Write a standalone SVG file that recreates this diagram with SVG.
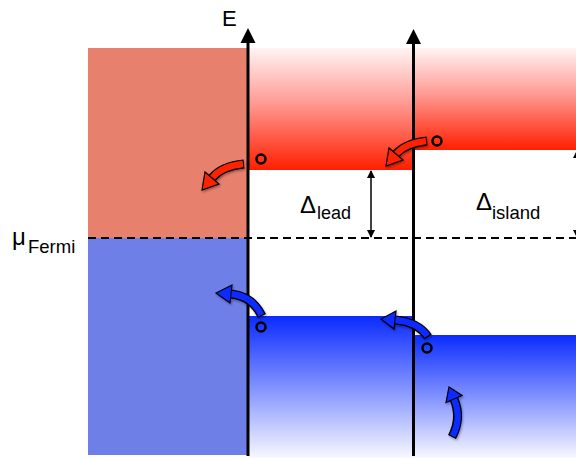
<svg xmlns="http://www.w3.org/2000/svg" width="576" height="460" viewBox="0 0 576 460">
<style>
.lbl{font-family:"Liberation Sans",Arial,sans-serif;fill:#000}
.axis{stroke:#000;stroke-width:3;fill:none}
.hole{fill:none;stroke:#000;stroke-width:2.5}
.blk{stroke:#000;fill:none;stroke-linecap:butt}
.dash{stroke:#000;stroke-width:2;stroke-dasharray:8 5;fill:none}
.dim{stroke:#000;stroke-width:1.5;fill:none;marker-start:url(#sm);marker-end:url(#sm)}
</style>
<defs>
<linearGradient id="gRed" x1="0" y1="0" x2="0" y2="1">
<stop offset="0" stop-color="#fff4f4"/>
<stop offset="0.45" stop-color="#ff9a94"/>
<stop offset="1" stop-color="#ff1f00"/>
</linearGradient>
<linearGradient id="gBlue" x1="0" y1="0" x2="0" y2="1">
<stop offset="0" stop-color="#0a2bff"/>
<stop offset="1" stop-color="#f8f8ff"/>
</linearGradient>
<marker id="sm" viewBox="0 0 8 8" refX="7" refY="4" markerWidth="8" markerHeight="8" markerUnits="userSpaceOnUse" orient="auto-start-reverse">
<path d="M0,0 L8,4 L0,8 z" fill="#000"/>
</marker>
<filter id="sh" x="-30%" y="-30%" width="160%" height="160%">
<feDropShadow dx="1" dy="1.5" stdDeviation="1" flood-color="#000" flood-opacity="0.35"/>
</filter>
</defs>

<g id="lead-metal">
<rect x="88" y="48" width="160" height="190" fill="#e8806e"/>
<rect x="88" y="238" width="160" height="217" fill="#6e80e8"/>
</g>
<g id="lead-bands">
<rect x="248" y="48" width="166" height="122" fill="url(#gRed)"/>
<rect x="248" y="316" width="166" height="142" fill="url(#gBlue)"/>
</g>
<g id="island-bands">
<rect x="413" y="48" width="163" height="102" fill="url(#gRed)"/>
<rect x="413" y="335" width="163" height="123" fill="url(#gBlue)"/>
</g>

<g id="fermi-level">
<line class="dash" x1="88" y1="238" x2="576" y2="238"/>
</g>

<g id="axis-lead">
<line class="axis" x1="248" y1="456" x2="248" y2="40"/>
<polygon points="248,28 240.5,43 255.5,43" fill="#000"/>
<text class="lbl" x="222" y="26" font-size="22">E</text>
</g>
<g id="axis-island">
<line class="axis" x1="413.5" y1="456" x2="413.5" y2="41"/>
<polygon points="413.5,29 406,44 421,44" fill="#000"/>
</g>

<g id="holes">
<circle class="hole" cx="261" cy="159" r="4.5"/>
<circle class="hole" cx="437" cy="141" r="4.5"/>
<circle class="hole" cx="261" cy="327" r="4.5"/>
<circle class="hole" cx="427" cy="348" r="4.5"/>
</g>

<g id="labels">
<text class="lbl" x="300" y="213" font-size="24">Δ</text>
<text class="lbl" x="317" y="219" font-size="18">lead</text>
<text class="lbl" x="476" y="210" font-size="24">Δ</text>
<text class="lbl" x="492" y="219" font-size="18.5">island</text>
<text class="lbl" x="12" y="245" font-size="24">μ</text>
<text class="lbl" x="28" y="253" font-size="18.5">Fermi</text>
</g>

<g id="connectors">
<line class="dim" x1="371" y1="171" x2="371" y2="237"/>
<line class="dim" x1="577" y1="151" x2="577" y2="237"/>

<g id="arrow-red-1" filter="url(#sh)">
<path class="blk" stroke-width="9" d="M244,164 Q222,166 212,178"/>
<polygon points="219,184 205,172 202,190" fill="#ff2000" stroke="#000" stroke-width="1.2" stroke-linejoin="miter"/>
<path d="M243,164 Q222,166 212.5,177.5" stroke="#ff2000" stroke-width="6.3" fill="none"/>
</g>
<g id="arrow-red-2" filter="url(#sh)">
<path class="blk" stroke-width="9" d="M427,141 Q406,143 396,154"/>
<polygon points="403,160 389,148 386,166" fill="#ff2000" stroke="#000" stroke-width="1.2"/>
<path d="M426,141 Q406,143 396.5,153.5" stroke="#ff2000" stroke-width="6.3" fill="none"/>
</g>
<g id="arrow-blue-1" filter="url(#sh)">
<path class="blk" stroke-width="9" d="M262,316 Q252,296 231,294"/>
<polygon points="232,285 230,303 216,293" fill="#0a2bff" stroke="#000" stroke-width="1.2"/>
<path d="M261.3,315 Q252,296 231.5,294" stroke="#0a2bff" stroke-width="6.3" fill="none"/>
</g>
<g id="arrow-blue-2" filter="url(#sh)">
<path class="blk" stroke-width="9" d="M428,337 Q418,322 395,320"/>
<polygon points="396,311 394,329 381,319" fill="#0a2bff" stroke="#000" stroke-width="1.2"/>
<path d="M427.3,336 Q418,322 395.5,320" stroke="#0a2bff" stroke-width="6.3" fill="none"/>
</g>
<g id="arrow-blue-3" filter="url(#sh)">
<path class="blk" stroke-width="9" d="M452,437 Q462,418 454,399"/>
<polygon points="462,395.5 446,402.5 449,387" fill="#0a2bff" stroke="#000" stroke-width="1.2"/>
<path d="M452.6,436 Q462,418 454.2,399.5" stroke="#0a2bff" stroke-width="6.3" fill="none"/>
</g>
</g>
</svg>
